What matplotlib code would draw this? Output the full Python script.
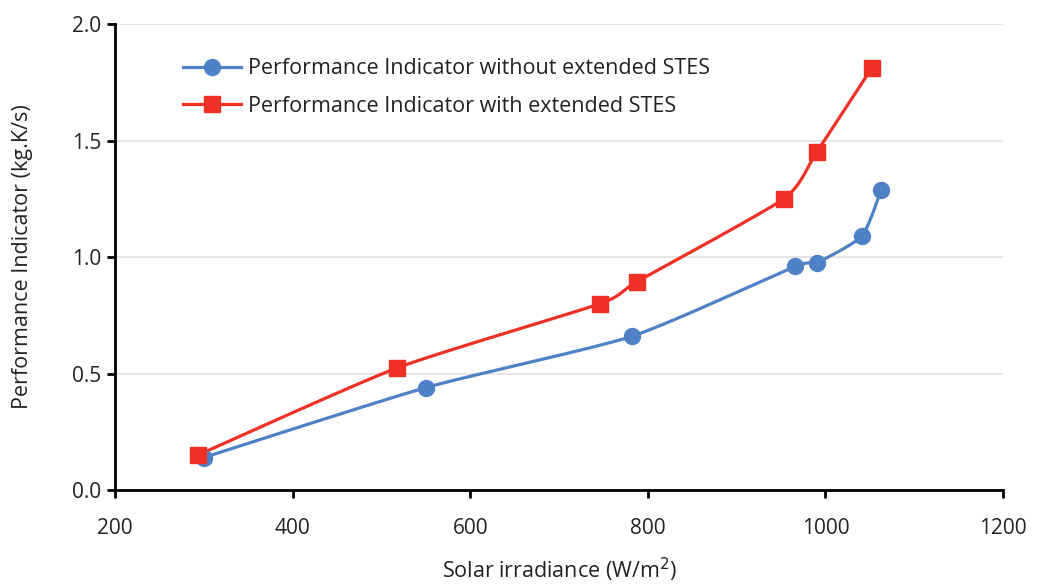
import numpy as np
import matplotlib
matplotlib.use("Agg")
import matplotlib.pyplot as plt

# Data
x_without = [300, 550, 782, 966, 990, 1041, 1063]
y_without = [0.14, 0.44, 0.66, 0.96, 0.975, 1.09, 1.29]
x_with = [293, 518, 746, 788, 953, 990, 1052]
y_with = [0.15, 0.525, 0.80, 0.895, 1.25, 1.45, 1.81]

label_without = "Performance Indicator without extended STES"
label_with = "Performance Indicator with extended STES"
x_ticks = [200, 400, 600, 800, 1000, 1200]
y_ticks = [0.0, 0.5, 1.0, 1.5, 2.0]

BLUE = "#4F81C7"
RED = "#EE3124"

plt.rcParams['font.family'] = ['Open Sans', 'DejaVu Sans']


def smooth(xs, ys, xr=1000.0, yr=2.0, n=30):
    """Catmull-Rom smoothing (Excel-like smoothed line) in normalised space."""
    P = np.column_stack([np.asarray(xs) / xr, np.asarray(ys) / yr])
    P = np.vstack([P[0], P, P[-1]])
    out = []
    t = np.linspace(0, 1, n)[:, None]
    for i in range(1, len(P) - 2):
        p0, p1, p2, p3 = P[i - 1], P[i], P[i + 1], P[i + 2]
        m1 = (p2 - p0) / 2 * 0.6
        m2 = (p3 - p1) / 2 * 0.6
        h00 = 2 * t**3 - 3 * t**2 + 1
        h10 = t**3 - 2 * t**2 + t
        h01 = -2 * t**3 + 3 * t**2
        h11 = t**3 - t**2
        seg = h00 * p1 + h10 * m1 + h01 * p2 + h11 * m2
        out.append(seg if i == 1 else seg[1:])
    out = np.vstack(out)
    return out[:, 0] * xr, out[:, 1] * yr


fig = plt.figure(figsize=(10.38, 5.87), dpi=100)
ax = fig.add_axes([0.1108, 0.165, 0.8555, 0.794])

sx, sy = smooth(x_without, y_without)
ax.plot(sx, sy, color=BLUE, lw=2.3, zorder=3)
ax.plot(x_without, y_without, ls='none', marker='o', ms=11.5, color=BLUE, zorder=4)
sx, sy = smooth(x_with, y_with)
ax.plot(sx, sy, color=RED, lw=2.3, zorder=3)
ax.plot(x_with, y_with, ls='none', marker='s', ms=11.5, color=RED, zorder=5)

# legend handles
ax.plot([], [], color=BLUE, lw=2.3, marker='o', ms=11.5, label=label_without)
ax.plot([], [], color=RED, lw=2.3, marker='s', ms=11.5, label=label_with)
leg = ax.legend(loc='upper left', bbox_to_anchor=(0.055, 0.968), frameon=False,
                fontsize=15.5, handlelength=2.7, handletextpad=0.3, labelspacing=0.75)
for t in leg.get_texts():
    t.set_color('#222222')

ax.set_xlim(200, 1200)
ax.set_ylim(0, 2.0)
ax.set_xticks(x_ticks)
ax.set_yticks(y_ticks)
ax.set_yticklabels([f"{v:.1f}" for v in y_ticks])
ax.grid(axis='y', color='#E0E0E0', lw=1.2)
ax.set_axisbelow(True)
for s in ['top', 'right']:
    ax.spines[s].set_visible(False)
for s in ['left', 'bottom']:
    ax.spines[s].set_linewidth(2.0)
    ax.spines[s].set_color('black')
ax.tick_params(axis='both', direction='out', length=6, width=2, labelsize=15,
               labelcolor='#222222')
ax.tick_params(axis='x', pad=14)
ax.tick_params(axis='y', pad=4)

ax.set_xlabel("Solar irradiance (W/m$^2$)", fontsize=15.5, color='#222222', labelpad=12)
ax.set_ylabel("Performance Indicator (kg.K/s)", fontsize=15.5, color='#222222', labelpad=28)

fig.savefig("out.png", dpi=100)
